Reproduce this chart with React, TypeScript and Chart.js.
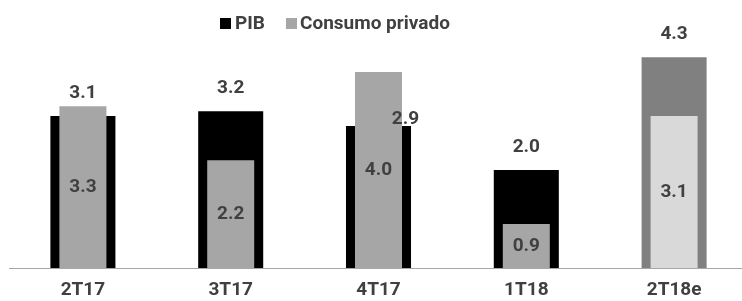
import React, { useEffect, useRef } from "react";
import { Chart, registerables } from "chart.js";

Chart.register(...registerables);

const categories = ["2T17", "3T17", "4T17", "1T18", "2T18e"];
const pibValues = [3.1, 3.2, 2.9, 2.0, 4.3];
const consumoValues = [3.3, 2.2, 4.0, 0.9, 3.1];
const seriesNames = ["PIB", "Consumo privado"];

const FONT = "Roboto, 'Liberation Sans', sans-serif";
const FS = 19;
const TEXT = "#404040";
const isEstimate = (c: string) => c.endsWith("e");
const pibColors = categories.map((c) => (isEstimate(c) ? "#808080" : "#000000"));
const consumoColors = categories.map((c) => (isEstimate(c) ? "#d9d9d9" : "#a6a6a6"));

// manual nudges for specific PIB labels (Excel-style placement)
const pibLabelNudge: Record<number, { dx: number; dy: number }> = { 2: { dx: 27, dy: 16 } };

const labelsPlugin = {
  id: "valueLabels",
  afterDatasetsDraw(chart: any) {
    const ctx = chart.ctx;
    ctx.save();
    ctx.font = `bold ${FS}px ${FONT}`;
    ctx.fillStyle = TEXT;
    ctx.textAlign = "center";
    ctx.textBaseline = "middle";
    const pibMeta = chart.getDatasetMeta(0);
    pibMeta.data.forEach((el: any, i: number) => {
      const n = pibLabelNudge[i] || { dx: 0, dy: 0 };
      ctx.fillText(pibValues[i].toFixed(1), el.x + n.dx, el.y - 23 + n.dy);
    });
    const cMeta = chart.getDatasetMeta(1);
    cMeta.data.forEach((el: any, i: number) => {
      ctx.fillText(consumoValues[i].toFixed(1), el.x, (el.y + el.base) / 2);
    });
    ctx.restore();
  },
  afterDraw(chart: any) {
    const ctx = chart.ctx;
    ctx.save();
    ctx.font = `bold ${FS}px ${FONT}`;
    ctx.textBaseline = "middle";
    ctx.textAlign = "left";
    const y = 24;
    ctx.fillStyle = "#000000";
    ctx.fillRect(220, 18, 11, 11);
    ctx.fillStyle = TEXT;
    ctx.fillText(seriesNames[0], 235, y);
    ctx.fillStyle = "#a6a6a6";
    ctx.fillRect(286, 18, 11, 11);
    ctx.fillStyle = TEXT;
    ctx.fillText(seriesNames[1], 300, y);
    ctx.restore();
  },
};

export default function App() {
  const ref = useRef<HTMLCanvasElement>(null);
  useEffect(() => {
    if (!ref.current) return;
    const chart = new Chart(ref.current, {
      type: "bar",
      data: {
        labels: categories,
        datasets: [
          {
            label: seriesNames[0],
            data: pibValues,
            backgroundColor: pibColors,
            borderWidth: 0,
            barPercentage: 0.44,
            categoryPercentage: 1,
            grouped: false,
            order: 1,
          } as any,
          {
            label: seriesNames[1],
            data: consumoValues,
            backgroundColor: consumoColors,
            borderWidth: 0,
            barPercentage: 0.318,
            categoryPercentage: 1,
            grouped: false,
            order: 0,
          } as any,
        ],
      },
      options: {
        responsive: false,
        animation: false,
        devicePixelRatio: 1,
        layout: { padding: { top: 23, left: 9, right: 8, bottom: 0 } },
        plugins: { legend: { display: false }, tooltip: { enabled: false } },
        scales: {
          x: {
            grid: { display: false },
            border: { display: true, color: "#a6a6a6", width: 1 },
            ticks: { color: TEXT, padding: 5, font: { family: FONT, size: FS, weight: "bold", lineHeight: 1 } },
            afterFit(scale: any) {
              scale.height = 33;
            },
          },
          y: { display: false, min: 0, max: 5 },
        },
      },
      plugins: [labelsPlugin],
    });
    return () => chart.destroy();
  }, []);
  return (
    <div style={{ position: "absolute", left: 0, top: 0, width: 742, height: 301, overflow: "hidden" }}>
      <canvas ref={ref} width={756} height={301} style={{ width: 756, height: 301, display: "block" }} />
    </div>
  );
}
